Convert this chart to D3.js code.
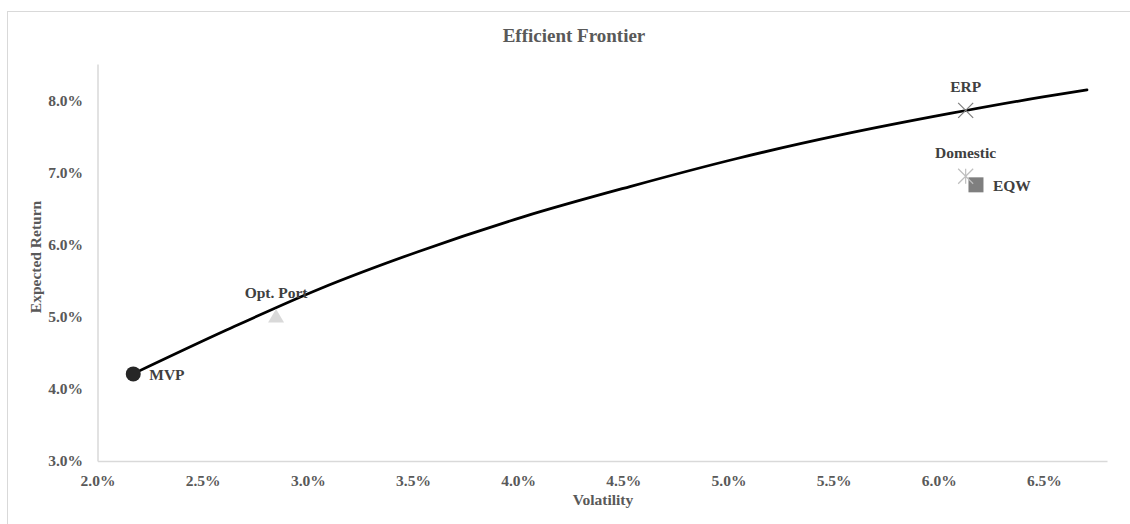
<!DOCTYPE html>
<html>
<head>
<meta charset="utf-8">
<script src="https://cdn.jsdelivr.net/npm/d3@7"></script>
<style>
  html, body { margin: 0; padding: 0; background: #fff; }
  svg { display: block; }
  text { font-family: "Liberation Serif", "Times New Roman", serif; font-weight: bold; }
</style>
</head>
<body>
<svg id="chart" width="1130" height="524"></svg>
<script>
// Efficient frontier curve (volatility, expected return)
const frontierVol = [0.02169, 0.02616, 0.03058, 0.03524, 0.04028, 0.04532, 0.05041, 0.05545, 0.06054, 0.06130, 0.06496, 0.06705];
const frontierRet = [0.04207, 0.04818, 0.05387, 0.05900, 0.06386, 0.06802, 0.07191, 0.07524, 0.07815, 0.07856, 0.08044, 0.08141];

// Named portfolios
const portNames = ["MVP", "Opt. Port", "ERP", "Domestic", "EQW"];
const portVol   = [0.02170, 0.02849, 0.06128, 0.06128, 0.06177];
const portRet   = [0.04207, 0.05010, 0.07857, 0.06945, 0.06826];

// Axis ticks
const xTicks = [0.020, 0.025, 0.030, 0.035, 0.040, 0.045, 0.050, 0.055, 0.060, 0.065];
const yTicks = [0.03, 0.04, 0.05, 0.06, 0.07, 0.08];
const xDomain = [0.02, 0.068];
const yDomain = [0.03, 0.085];

const svg = d3.select("#chart");
const W = 1130, H = 524;
const plot = { left: 97.5, right: 1107, top: 64, bottom: 461 };

// outer chart frame
svg.append("rect")
  .attr("x", 7.5).attr("y", 11.5)
  .attr("width", W + 20).attr("height", H + 20)
  .attr("fill", "#fff").attr("stroke", "#d9d9d9").attr("stroke-width", 1);

const x = d3.scaleLinear().domain(xDomain).range([plot.left, plot.right]);
const y = d3.scaleLinear().domain(yDomain).range([plot.bottom, plot.top]);
const pct = d3.format(".1%");

// axes
const gx = svg.append("g")
  .attr("transform", `translate(0,${plot.bottom})`)
  .call(d3.axisBottom(x).tickValues(xTicks).tickFormat(pct).tickSize(0).tickSizeOuter(0).tickPadding(14));
const gy = svg.append("g")
  .attr("transform", `translate(${plot.left},0)`)
  .call(d3.axisLeft(y).tickValues(yTicks).tickFormat(pct).tickSize(0).tickSizeOuter(0).tickPadding(14.5));

[gx, gy].forEach(g => {
  g.select(".domain").attr("stroke", "#d9d9d9").attr("stroke-width", 1.5);
  g.selectAll(".tick text")
    .attr("fill", "#595959")
    .style("font-size", "15.5px")
    .style("font-family", "'Liberation Serif', 'Times New Roman', serif")
    .style("font-weight", "bold");
});

// titles
svg.append("text")
  .attr("x", 574).attr("y", 41.5)
  .attr("text-anchor", "middle")
  .attr("fill", "#595959")
  .style("font-size", "19px")
  .text("Efficient Frontier");

svg.append("text")
  .attr("x", 603).attr("y", 505)
  .attr("text-anchor", "middle")
  .attr("fill", "#595959")
  .style("font-size", "15.5px")
  .text("Volatility");

svg.append("text")
  .attr("transform", "translate(41,257) rotate(-90)")
  .attr("text-anchor", "middle")
  .attr("fill", "#595959")
  .style("font-size", "15.5px")
  .text("Expected Return");

// frontier line
const line = d3.line()
  .x(d => x(d[0]))
  .y(d => y(d[1]))
  .curve(d3.curveMonotoneX);
svg.append("path")
  .datum(frontierVol.map((v, i) => [v, frontierRet[i]]))
  .attr("d", line)
  .attr("fill", "none")
  .attr("stroke", "#000")
  .attr("stroke-width", 2.75)
  .attr("stroke-linecap", "round");

// portfolio markers
const pts = portNames.map((n, i) => ({ name: n, cx: x(portVol[i]), cy: y(portRet[i]) }));
const byName = Object.fromEntries(pts.map(p => [p.name, p]));

// Opt. Port: light triangle
{
  const p = byName["Opt. Port"];
  svg.append("path")
    .attr("d", `M${p.cx},${p.cy - 7} L${p.cx + 8},${p.cy + 6.5} L${p.cx - 8},${p.cy + 6.5} Z`)
    .attr("fill", "#d9d9d9");
}

// EQW: grey square
{
  const p = byName["EQW"];
  svg.append("rect")
    .attr("x", p.cx - 7.5).attr("y", p.cy - 7.5)
    .attr("width", 15).attr("height", 15)
    .attr("fill", "#7f7f7f");
}

// Domestic: star (x plus vertical bar)
{
  const p = byName["Domestic"], s = 7.5;
  svg.append("path")
    .attr("d", `M${p.cx - s},${p.cy - s} L${p.cx + s},${p.cy + s} M${p.cx + s},${p.cy - s} L${p.cx - s},${p.cy + s} M${p.cx},${p.cy - s} L${p.cx},${p.cy + s}`)
    .attr("stroke", "#bfbfbf").attr("stroke-width", 1.2).attr("fill", "none");
}

// ERP: x cross
{
  const p = byName["ERP"], s = 7.5;
  svg.append("path")
    .attr("d", `M${p.cx - s},${p.cy - s} L${p.cx + s},${p.cy + s} M${p.cx + s},${p.cy - s} L${p.cx - s},${p.cy + s}`)
    .attr("stroke", "#7f7f7f").attr("stroke-width", 1.2).attr("fill", "none");
}

// MVP: dark circle
{
  const p = byName["MVP"];
  svg.append("circle")
    .attr("cx", p.cx).attr("cy", p.cy).attr("r", 7.5)
    .attr("fill", "#262626");
}

// data labels
const labelStyle = sel => sel.attr("fill", "#404040").style("font-size", "15.5px");
labelStyle(svg.append("text")
  .attr("x", byName["MVP"].cx + 16).attr("y", byName["MVP"].cy + 6)
  .text("MVP"));
labelStyle(svg.append("text")
  .attr("x", byName["Opt. Port"].cx).attr("y", byName["Opt. Port"].cy - 18)
  .attr("text-anchor", "middle")
  .text("Opt. Port"));
labelStyle(svg.append("text")
  .attr("x", byName["ERP"].cx).attr("y", byName["ERP"].cy - 18)
  .attr("text-anchor", "middle")
  .text("ERP"));
labelStyle(svg.append("text")
  .attr("x", byName["Domestic"].cx).attr("y", byName["Domestic"].cy - 18)
  .attr("text-anchor", "middle")
  .text("Domestic"));
labelStyle(svg.append("text")
  .attr("x", byName["EQW"].cx + 17).attr("y", byName["EQW"].cy + 6.5)
  .text("EQW"));
</script>
</body>
</html>
